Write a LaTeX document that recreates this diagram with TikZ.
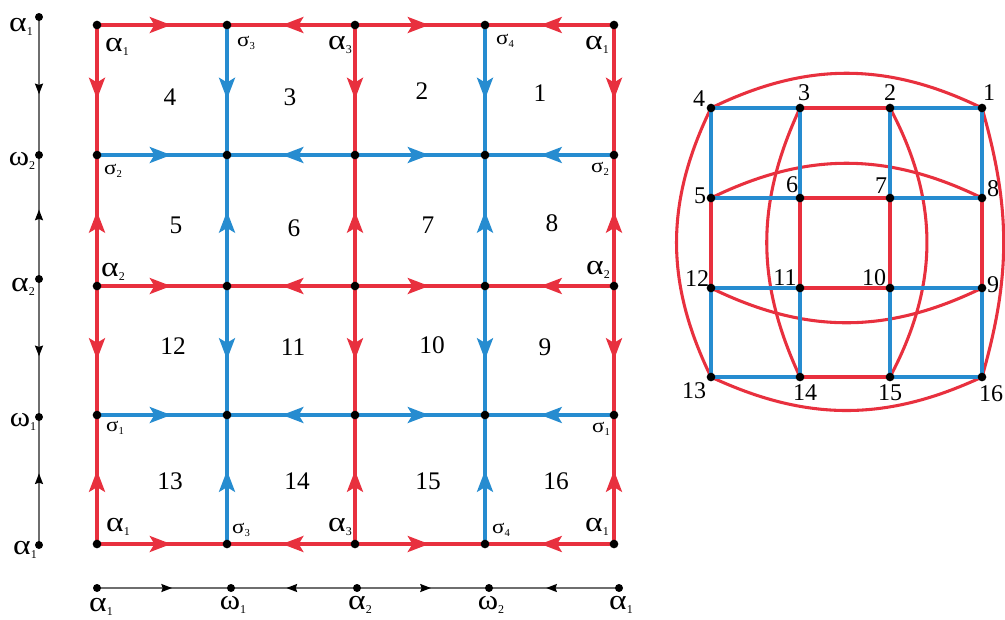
\documentclass[tikz,border=0pt]{standalone}
\usepackage{fontspec}
\usepackage{graphicx}
\setmainfont{Liberation Serif}
\usetikzlibrary{arrows.meta,decorations.markings}
\definecolor{myred}{RGB}{232,48,62}
\definecolor{myblue}{RGB}{38,140,208}
\definecolor{axgray}{RGB}{110,110,110}
\tikzset{
  gdot/.style={circle,fill=black,inner sep=0pt,minimum size=6.5pt},
  sdot/.style={circle,fill=black,inner sep=0pt,minimum size=6pt},
  midarrow/.style={postaction={decorate},decoration={markings,
     mark=at position 0.57 with {\arrow{Stealth[length=16pt,width=12pt,inset=3.5pt]}}}},
  redarr/.style={color=myred,line width=2.6pt,midarrow},
  bluearr/.style={color=myblue,line width=2.6pt,midarrow},
  axarr/.style={color=axgray,line width=1.2pt,postaction={decorate},decoration={markings,
     mark=at position 0.56 with {\arrow[black]{Stealth[length=8pt,width=6pt,inset=1pt]}}}},
  redline/.style={color=myred,line width=2.3pt},
  blueline/.style={color=myblue,line width=2.6pt},
  regnum/.style={font=\fontsize{19}{22}\selectfont},
  alab/.style={font=\fontsize{21}{22}\selectfont,inner sep=0pt},
  slab/.style={font=\fontsize{15}{16}\selectfont,inner sep=0pt},
  gnum/.style={font=\fontsize{18}{20}\selectfont,inner sep=0pt},
}
\newcommand{\alp}[1]{\scalebox{1.2}[1]{α}\raisebox{-0.3ex}{\fontsize{9}{9}\selectfont #1}}
\newcommand{\omg}[1]{\scalebox{1.1}[1]{ω}\raisebox{-0.3ex}{\fontsize{9}{9}\selectfont #1}}
\newcommand{\sig}[1]{\scalebox{1.15}[1]{σ}\raisebox{-0.3ex}{\fontsize{8}{8}\selectfont #1}}
\begin{document}
\begin{tikzpicture}[x=0.75pt,y=-0.75pt]
\useasboundingbox (0,0) rectangle (1005,619);
% ---------- grid vertices ----------
\foreach \c/\x in {0/97,1/227,2/355,3/485,4/614}{
  \foreach \r/\y in {0/25,1/155,2/286,3/415,4/544}{
    \coordinate (g\c\r) at (\x,\y);
  }
}
% horizontal rows
\foreach \r/\st in {0/redarr,1/bluearr,2/redarr,3/bluearr,4/redarr}{
  \draw[\st] (g0\r) -- (g1\r);
  \draw[\st] (g2\r) -- (g1\r);
  \draw[\st] (g2\r) -- (g3\r);
  \draw[\st] (g4\r) -- (g3\r);
}
% vertical columns
\foreach \c/\st in {0/redarr,1/bluearr,2/redarr,3/bluearr,4/redarr}{
  \draw[\st] (g\c0) -- (g\c1);
  \draw[\st] (g\c2) -- (g\c1);
  \draw[\st] (g\c2) -- (g\c3);
  \draw[\st] (g\c4) -- (g\c3);
}
\foreach \c in {0,...,4}{\foreach \r in {0,...,4}{\node[gdot] (d\c\r) at (g\c\r) {};}}
% vertex labels
\node[alab] (l1) at (117,47) {\alp{1}};
\node[slab] (l2) at (246,43) {\sig{3}};
\node[alab] (l3) at (340,45) {\alp{3}};
\node[slab] (l4) at (505,41) {\sig{4}};
\node[alab] (l5) at (597,45) {\alp{1}};
\node[slab] (l6) at (113,171) {\sig{2}};
\node[slab] (l7) at (600,169) {\sig{2}};
\node[alab] (l8) at (113,272) {\alp{2}};
\node[alab] (l9) at (598,270) {\alp{2}};
\node[slab] (l10) at (115,428) {\sig{1}};
\node[slab] (l11) at (601,429) {\sig{1}};
\node[alab] (l12) at (118,527) {\alp{1}};
\node[slab] (l13) at (241,530) {\sig{3}};
\node[alab] (l14) at (340,527) {\alp{3}};
\node[slab] (l15) at (501,530) {\sig{4}};
\node[alab] (l16) at (597,527) {\alp{1}};
% region numbers
\node[regnum] (r4) at (170,97) {4};
\node[regnum] (r3) at (290,97) {3};
\node[regnum] (r2) at (422,91) {2};
\node[regnum] (r1) at (540,93) {1};
\node[regnum] (r5) at (176,225) {5};
\node[regnum] (r6) at (294,228) {6};
\node[regnum] (r7) at (428,225) {7};
\node[regnum] (r8) at (552,223) {8};
\node[regnum] (r12) at (173,346) {12};
\node[regnum] (r11) at (293,347) {11};
\node[regnum] (r10) at (432,345) {10};
\node[regnum] (r9) at (545,347) {9};
\node[regnum] (r13) at (170,481) {13};
\node[regnum] (r14) at (297,481) {14};
\node[regnum] (r15) at (428,481) {15};
\node[regnum] (r16) at (556,481) {16};
% ---------- left axis ----------
\foreach \i/\y in {0/17,1/155,2/279,3/417,4/545}{\coordinate (v\i) at (39,\y);}
\draw[axarr] (v0) -- (v1);
\draw[axarr] (v2) -- (v1);
\draw[axarr] (v2) -- (v3);
\draw[axarr] (v4) -- (v3);
\foreach \i in {0,...,4}{\node[sdot] (vd\i) at (v\i) {};}
\node[alab] (va0) at (21,27) {\alp{1}};
\node[alab] (va1) at (22,161) {\omg{2}};
\node[alab] (va2) at (23,287) {\alp{2}};
\node[alab] (va3) at (23,422) {\omg{1}};
\node[alab] (va4) at (25,550) {\alp{1}};
% ---------- bottom axis ----------
\foreach \i/\x in {0/97,1/231,2/357,3/489,4/619}{\coordinate (h\i) at (\x,588);}
\draw[axarr] (h0) -- (h1);
\draw[axarr] (h2) -- (h1);
\draw[axarr] (h2) -- (h3);
\draw[axarr] (h4) -- (h3);
\foreach \i in {0,...,4}{\node[sdot] (hd\i) at (h\i) {};}
\node[alab] (ha0) at (101,607) {\alp{1}};
\node[alab] (ha1) at (233,605) {\omg{1}};
\node[alab] (ha2) at (360,605) {\alp{2}};
\node[alab] (ha3) at (491,605) {\omg{2}};
\node[alab] (ha4) at (621,605) {\alp{1}};
% ---------- right graph ----------
\foreach \n/\x/\y in {4/711/108,3/800/108,2/890/108,1/982/108,
                      5/711/198,6/800/198,7/890/198,8/982/198,
                      12/711/288,11/800/288,10/890/288,9/982/288,
                      13/711/377,14/800/377,15/890/377,16/982/377}{
  \coordinate (p\n) at (\x,\y);
}
\draw[redline] (p4) to[bend left=26] (p1);
\draw[redline] (p1) to[bend left=16] (p16);
\draw[redline] (p16) to[bend left=25] (p13);
\draw[redline] (p13) to[bend left=26] (p4);
\draw[redline] (p5) to[bend left=26] (p8);
\draw[redline] (p12) to[bend right=26] (p9);
\draw[redline] (p3) to[bend right=25] (p14);
\draw[redline] (p2) to[bend left=28] (p15);
% grid edges
\draw[blueline] (p4) -- (p3);
\draw[redline] (p3) -- (p2);
\draw[blueline] (p2) -- (p1);
\draw[blueline] (p5) -- (p6);
\draw[redline] (p6) -- (p7);
\draw[blueline] (p7) -- (p8);
\draw[blueline] (p12) -- (p11);
\draw[redline] (p11) -- (p10);
\draw[blueline] (p10) -- (p9);
\draw[blueline] (p13) -- (p14);
\draw[redline] (p14) -- (p15);
\draw[blueline] (p15) -- (p16);
\draw[blueline] (p4) -- (p5);
\draw[redline] (p5) -- (p12);
\draw[blueline] (p12) -- (p13);
\draw[blueline] (p3) -- (p6);
\draw[redline] (p6) -- (p11);
\draw[blueline] (p11) -- (p14);
\draw[blueline] (p2) -- (p7);
\draw[redline] (p7) -- (p10);
\draw[blueline] (p10) -- (p15);
\draw[blueline] (p1) -- (p8);
\draw[redline] (p8) -- (p9);
\draw[blueline] (p9) -- (p16);
\foreach \n in {1,...,16}{\node[gdot] (q\n) at (p\n) {};}
% labels
\node[gnum] (t4) at (699,99) {4};
\node[gnum] (t3) at (804,93) {3};
\node[gnum] (t2) at (890,93) {2};
\node[gnum] (t1) at (989,93) {1};
\node[gnum] (t5) at (700,196) {5};
\node[gnum] (t6) at (792,185) {6};
\node[gnum] (t7) at (881,186) {7};
\node[gnum] (t8) at (993,189) {8};
\node[gnum] (t12) at (697,279) {12};
\node[gnum] (t11) at (785,278) {11};
\node[gnum] (t10) at (874,278) {10};
\node[gnum] (t9) at (993,285) {9};
\node[gnum] (t13) at (694,391) {13};
\node[gnum] (t14) at (805,393) {14};
\node[gnum] (t15) at (890,393) {15};
\node[gnum] (t16) at (991,394) {16};
\end{tikzpicture}
\end{document}
